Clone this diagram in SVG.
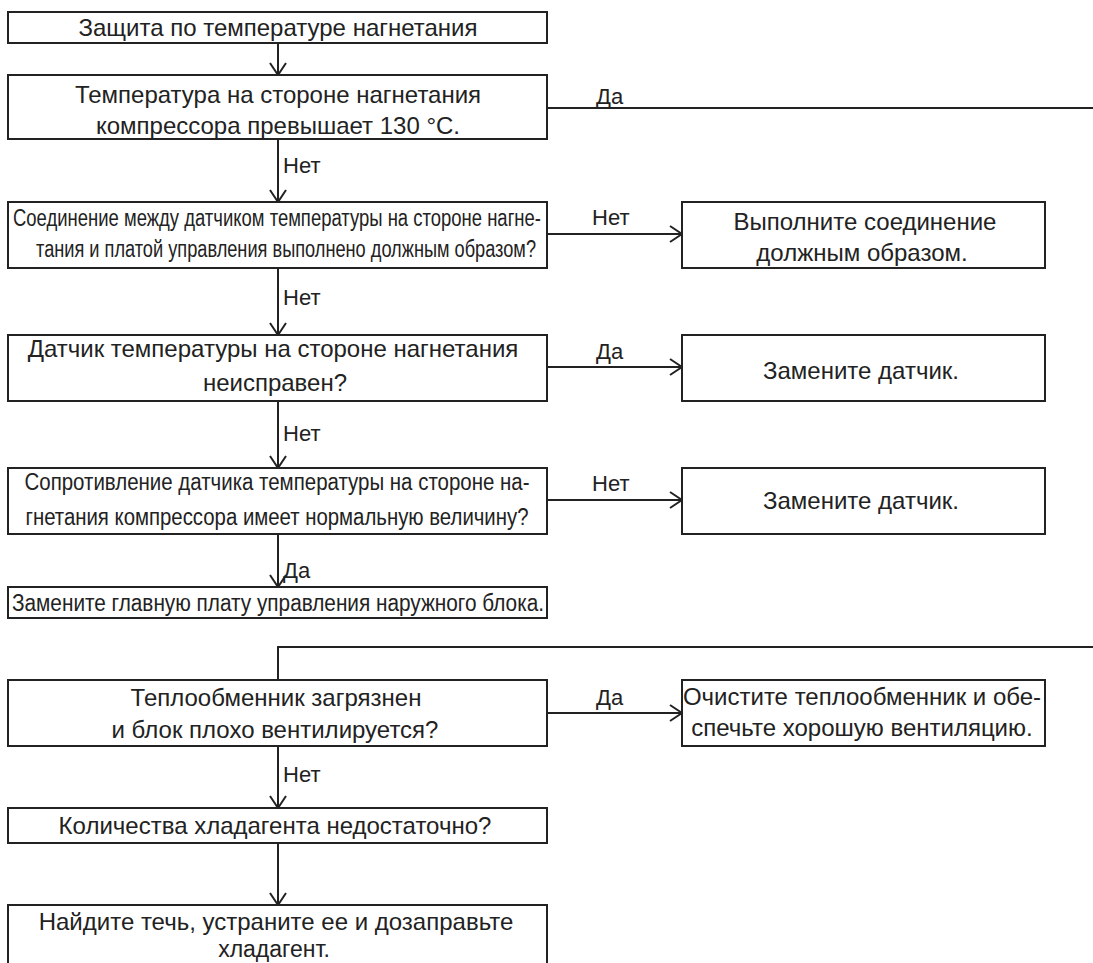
<svg xmlns="http://www.w3.org/2000/svg" width="1093" height="963" viewBox="0 0 1093 963">
<defs>
<style>
.box{fill:#fff;stroke:#222;stroke-width:2}
.t{font-family:"Liberation Sans",Arial,sans-serif;font-size:24px;fill:#222;text-anchor:middle}
.c{font-size:23px}
.lbl{font-family:"Liberation Sans",Arial,sans-serif;font-size:22px;fill:#222}
.ln{fill:none;stroke:#222;stroke-width:2}
</style>
<marker id="ah" viewBox="0 0 14 18" refX="13" refY="9" markerWidth="14" markerHeight="18" markerUnits="userSpaceOnUse" orient="auto">
<path d="M1,1 L13,9 L1,17" fill="none" stroke="#222" stroke-width="2"/>
</marker>
</defs>
<rect width="1093" height="963" fill="#fff"/>
<g id="connectors">
<line class="ln" x1="278" y1="43" x2="278" y2="75" marker-end="url(#ah)"/>
<line class="ln" x1="547" y1="108" x2="1093" y2="108"/>
<line class="ln" x1="278" y1="139" x2="278" y2="202" marker-end="url(#ah)"/>
<line class="ln" x1="547" y1="234" x2="682" y2="234" marker-end="url(#ah)"/>
<line class="ln" x1="278" y1="268" x2="278" y2="335" marker-end="url(#ah)"/>
<line class="ln" x1="547" y1="367" x2="682" y2="367" marker-end="url(#ah)"/>
<line class="ln" x1="278" y1="401" x2="278" y2="468" marker-end="url(#ah)"/>
<line class="ln" x1="547" y1="500" x2="682" y2="500" marker-end="url(#ah)"/>
<line class="ln" x1="278" y1="534" x2="278" y2="587" marker-end="url(#ah)"/>
<polyline class="ln" points="1093,647 278,647 278,680"/>
<line class="ln" x1="547" y1="713" x2="682" y2="713" marker-end="url(#ah)"/>
<line class="ln" x1="278" y1="746" x2="278" y2="808" marker-end="url(#ah)"/>
<line class="ln" x1="278" y1="843" x2="278" y2="905" marker-end="url(#ah)"/>
<text class="lbl" x="596" y="104">Да</text>
<text class="lbl" x="283" y="173">Нет</text>
<text class="lbl" x="592" y="225">Нет</text>
<text class="lbl" x="283" y="305">Нет</text>
<text class="lbl" x="596" y="359">Да</text>
<text class="lbl" x="283" y="441">Нет</text>
<text class="lbl" x="592" y="491">Нет</text>
<text class="lbl" x="283" y="578">Да</text>
<text class="lbl" x="596" y="705">Да</text>
<text class="lbl" x="283" y="782">Нет</text>
</g>
<g id="n1"><rect class="box" x="8" y="12" width="539" height="31"/>
<text class="t" x="278" y="36">Защита по температуре нагнетания</text></g>
<g id="n2"><rect class="box" x="8" y="75" width="539" height="64"/>
<text class="t" x="278" y="103">Температура на стороне нагнетания</text>
<text class="t" x="278" y="134">компрессора превышает 130 °C.</text></g>
<g id="n3"><rect class="box" x="8" y="202" width="539" height="66"/>
<text class="t c" x="277" y="226" textLength="528" lengthAdjust="spacingAndGlyphs">Соединение между датчиком температуры на стороне нагне-</text>
<text class="t c" x="286" y="257" textLength="500" lengthAdjust="spacingAndGlyphs">тания и платой управления выполнено должным образом?</text></g>
<g id="n4"><rect class="box" x="682" y="202" width="363" height="66"/>
<text class="t" x="865" y="230">Выполните соединение</text>
<text class="t" x="862" y="261">должным образом.</text></g>
<g id="n5"><rect class="box" x="8" y="335" width="539" height="66"/>
<text class="t" x="273" y="357">Датчик температуры на стороне нагнетания</text>
<text class="t" x="275" y="391">неисправен?</text></g>
<g id="n6"><rect class="box" x="682" y="335" width="363" height="66"/>
<text class="t" x="861" y="379">Замените датчик.</text></g>
<g id="n7"><rect class="box" x="8" y="468" width="539" height="66"/>
<text class="t c" x="277" y="490" textLength="505" lengthAdjust="spacingAndGlyphs">Сопротивление датчика температуры на стороне на-</text>
<text class="t c" x="277" y="525" textLength="503" lengthAdjust="spacingAndGlyphs">гнетания компрессора имеет нормальную величину?</text></g>
<g id="n8"><rect class="box" x="682" y="468" width="363" height="66"/>
<text class="t" x="861" y="509">Замените датчик.</text></g>
<g id="n9"><rect class="box" x="8" y="587" width="539" height="31"/>
<text class="t c" x="278" y="611" textLength="532" lengthAdjust="spacingAndGlyphs">Замените главную плату управления наружного блока.</text></g>
<g id="n10"><rect class="box" x="8" y="680" width="539" height="66"/>
<text class="t" x="276" y="706">Теплообменник загрязнен</text>
<text class="t" x="275" y="738">и блок плохо вентилируется?</text></g>
<g id="n11"><rect class="box" x="682" y="680" width="363" height="66"/>
<text class="t" x="862" y="705">Очистите теплообменник и обе-</text>
<text class="t" x="862" y="736">спечьте хорошую вентиляцию.</text></g>
<g id="n12"><rect class="box" x="8" y="808" width="539" height="35"/>
<text class="t" x="275" y="834">Количества хладагента недостаточно?</text></g>
<g id="n13"><rect class="box" x="8" y="905" width="539" height="70"/>
<text class="t" x="276" y="930">Найдите течь, устраните ее и дозаправьте</text>
<text class="t" x="274" y="957" style="font-size:23px">хладагент.</text></g>
</svg>
